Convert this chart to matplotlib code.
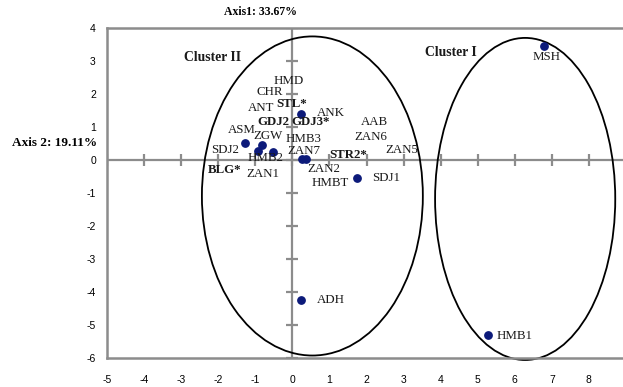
import matplotlib
matplotlib.use("Agg")
import matplotlib.pyplot as plt
from matplotlib.patches import Ellipse

plt.rcParams['axes.unicode_minus'] = False

# Point coordinates (Axis1, Axis2)
pt_x = [6.78, 5.28, 0.22, 0.23, -1.29, -0.82, -0.94, -0.51, 0.25, 0.36, 1.74]
pt_y = [3.45, -5.30, -4.24, 1.38, 0.51, 0.45, 0.28, 0.23, 0.03, 0.03, -0.56]

# Labels
lab_text = ["HMD", "CHR", "ANT", "STL*", "ANK", "GDJ2", "GDJ3*", "AAB", "ZAN6",
            "ASM", "ZGW", "HMB3", "SDJ2", "ZAN7", "HMB2", "STR2*", "ZAN5",
            "BLG*", "ZAN1", "ZAN2", "HMBT", "SDJ1", "MSH", "HMB1", "ADH"]
lab_x = [-0.11, -0.60, -0.84, -0.03, 1.03, -0.51, 0.49, 2.22, 2.11,
         -1.36, -0.65, 0.30, -1.82, 0.30, -0.73, 1.52, 2.95,
         -1.82, -0.79, 0.84, 1.03, 2.52, 6.86, 5.99, 1.03]
lab_y = [2.39, 2.06, 1.58, 1.70, 1.42, 1.15, 1.15, 1.15, 0.70,
         0.91, 0.73, 0.64, 0.30, 0.27, 0.06, 0.15, 0.30,
         -0.30, -0.42, -0.27, -0.70, -0.55, 3.12, -5.33, -4.24]
lab_bold = ["STL*", "GDJ2", "GDJ3*", "STR2*", "BLG*"]

# Clusters: name, label position, ellipse center, width, height
cl_names = ["Cluster II", "Cluster I"]
cl_lab_x = [-2.14, 4.28]
cl_lab_y = [3.12, 3.27]
cl_cx = [0.54, 6.28]
cl_cy = [-1.09, -1.18]
cl_w = [5.96, 4.86]
cl_h = [9.67, 9.76]

x_ticks = list(range(-5, 10))
y_ticks = list(range(-6, 5))

fig = plt.figure(figsize=(6.23, 3.87), dpi=100)
ax = fig.add_axes([107/623, (387-358)/387, (626-107)/623, (358-28)/387])
ax.set_xlim(-5, 9)
ax.set_ylim(-6, 4)

gray = '#8c8c8c'
for s in ax.spines.values():
    s.set_color(gray)
    s.set_linewidth(1.8)

ax.set_xticks(x_ticks)
ax.set_yticks(y_ticks)
ax.set_xticklabels([str(v) for v in x_ticks], fontsize=7.5, family='Liberation Sans')
ax.set_yticklabels([str(v) for v in y_ticks], fontsize=7.5, family='Liberation Sans')
ax.tick_params(axis='both', length=0)
ax.tick_params(axis='x', pad=12)
ax.tick_params(axis='y', pad=8)

# zero axes with cross ticks
ax.axhline(0, color=gray, lw=1.6, zorder=1)
ax.axvline(0, color=gray, lw=1.6, zorder=1)
ax.plot(x_ticks, [0]*len(x_ticks), linestyle='none', marker='|', color=gray,
        markersize=8, markeredgewidth=1.6, zorder=1)
ax.plot([0]*len(y_ticks), y_ticks, linestyle='none', marker='_', color=gray,
        markersize=8, markeredgewidth=1.6, zorder=1)

for cx, cy, w, h in zip(cl_cx, cl_cy, cl_w, cl_h):
    ax.add_patch(Ellipse((cx, cy), w, h, fill=False, edgecolor='black', lw=1.3,
                         zorder=2, clip_on=False))

ax.scatter(pt_x, pt_y, s=28, color='#0c1a7a', zorder=4)

for t, x, y in zip(lab_text, lab_x, lab_y):
    ax.text(x, y, t, fontsize=9.3, family='Liberation Serif',
            fontweight='bold' if t in lab_bold else 'normal',
            ha='center', va='center', color='#1a1a1a', zorder=5)

for t, x, y in zip(cl_names, cl_lab_x, cl_lab_y):
    ax.text(x, y, t, fontsize=9.8, family='Liberation Serif', fontweight='bold',
            ha='center', va='center', color='#1a1a1a', zorder=5)

fig.text(260/623, 1-12/387, "Axis1: 33.67%", fontsize=8.5, family='Liberation Serif',
         fontweight='bold', ha='center', va='center')
fig.text(12/623, 1-143/387, "Axis 2: 19.11%", fontsize=9.5, family='Liberation Serif',
         fontweight='bold', ha='left', va='center')

fig.savefig("out.png", dpi=100)
